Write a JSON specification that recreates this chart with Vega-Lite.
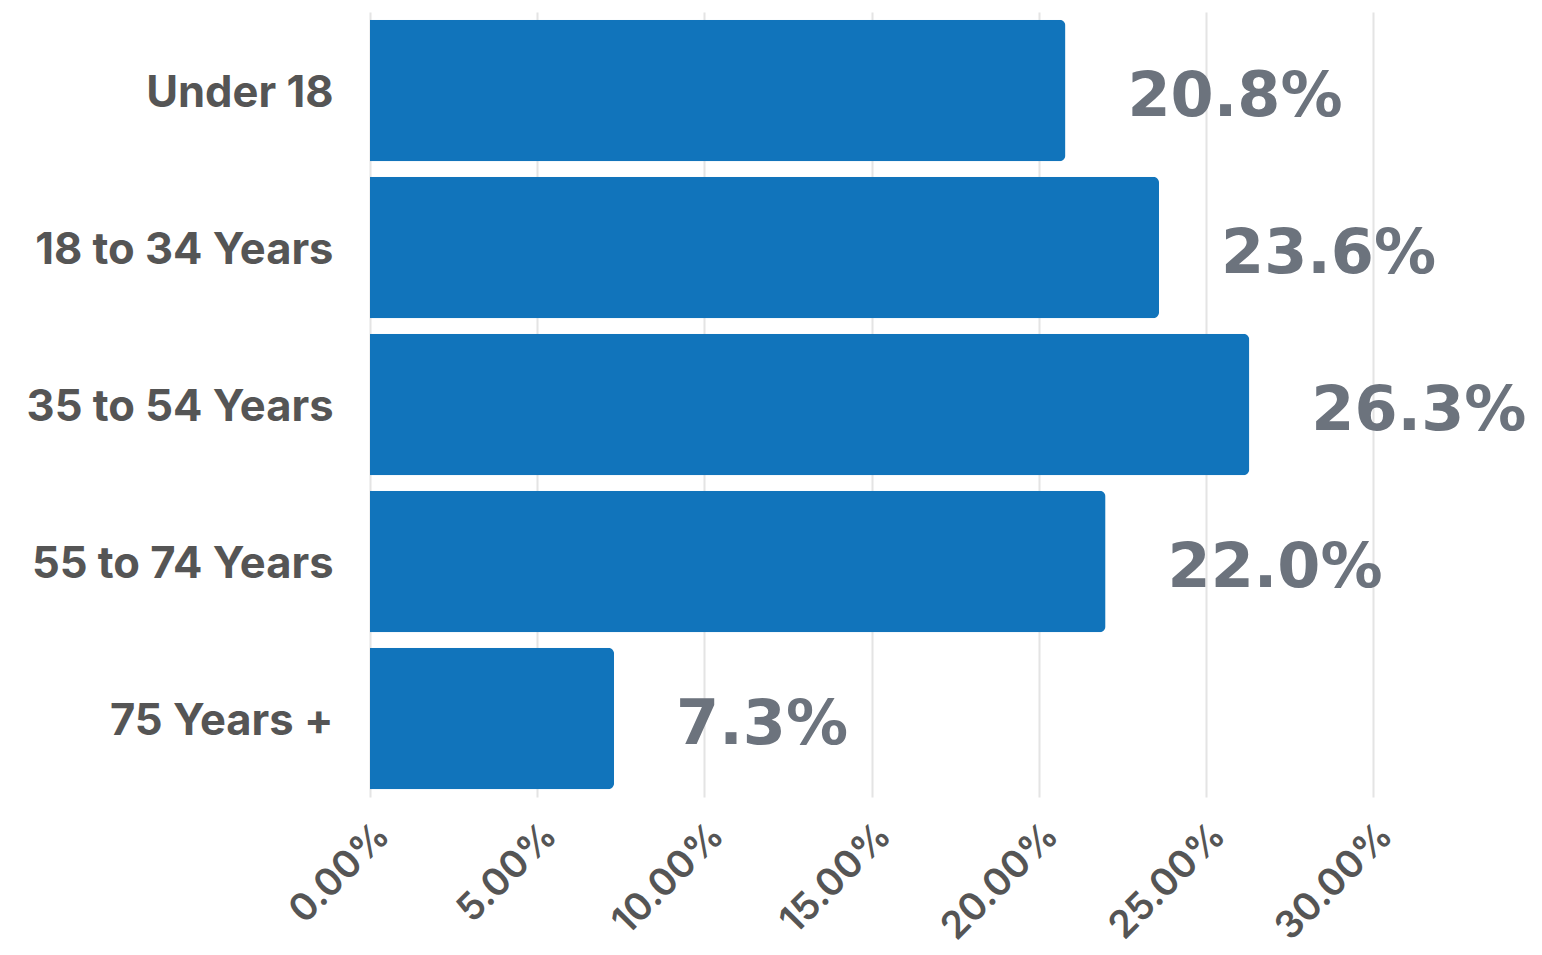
{
  "$schema": "https://vega.github.io/schema/vega-lite/v6.json",
  "autosize": {"type": "none"},
  "width": 1003,
  "height": 785,
  "padding": {"left": 370, "top": 12, "right": 169, "bottom": 158},
  "background": "white",
  "data": {
    "values": [
      {"age": "Under 18", "share": 0.208, "label": "20.8%"},
      {"age": "18 to 34 Years", "share": 0.236, "label": "23.6%"},
      {"age": "35 to 54 Years", "share": 0.263, "label": "26.3%"},
      {"age": "55 to 74 Years", "share": 0.220, "label": "22.0%"},
      {"age": "75 Years +", "share": 0.073, "label": "7.3%"}
    ]
  },
  "encoding": {
    "y": {
      "field": "age",
      "type": "nominal",
      "sort": null,
      "scale": {"paddingInner": 0.1, "paddingOuter": 0.05},
      "axis": {
        "title": null,
        "domain": false,
        "ticks": false,
        "labelPadding": 37,
        "labelOffset": 3,
        "labelFont": "Inter",
        "labelFontWeight": "bold",
        "labelFontSize": 43.5,
        "labelColor": "#555555",
        "labelLimit": 400
      }
    },
    "x": {
      "field": "share",
      "type": "quantitative",
      "scale": {"domain": [0, 0.3]},
      "axis": {
        "title": null,
        "format": ".2%",
        "values": [0, 0.05, 0.1, 0.15, 0.2, 0.25, 0.3],
        "domain": false,
        "ticks": false,
        "grid": true,
        "gridColor": "#e4e4e4",
        "gridWidth": 2,
        "labelAngle": -45,
        "labelPadding": 19,
        "labelFont": "Inter",
        "labelFontWeight": 600,
        "labelFontSize": 38,
        "labelColor": "#555555",
        "labelLimit": 400
      }
    }
  },
  "layer": [
    {
      "mark": {"type": "bar", "color": "#1174bb", "cornerRadiusEnd": 6}
    },
    {
      "mark": {
        "type": "text",
        "align": "left",
        "baseline": "middle",
        "dx": 62,
        "dy": 6,
        "font": "DejaVu Sans",
        "fontWeight": "bold",
        "fontSize": 62,
        "color": "#6c737d"
      },
      "encoding": {"text": {"field": "label", "type": "nominal"}}
    }
  ],
  "config": {"view": {"stroke": null}}
}
